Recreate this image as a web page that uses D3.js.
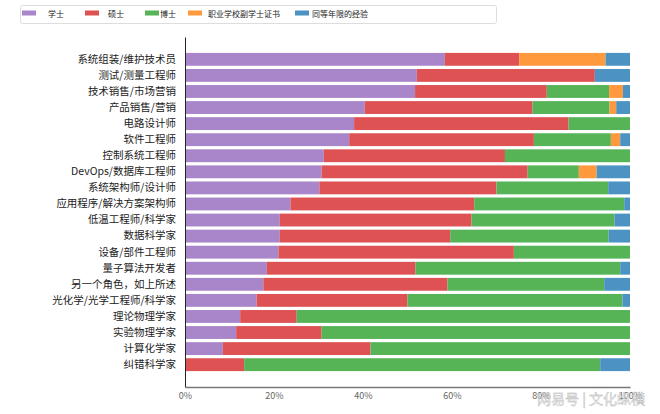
<!DOCTYPE html>
<html><head><meta charset="utf-8">
<script src="https://cdn.jsdelivr.net/npm/d3@7"></script>
<style>body{margin:0;background:#fff}</style>
</head><body><svg id="c" width="660" height="414"></svg>
<script>
const categories = ["系统组装/维护技术员","测试/测量工程师","技术销售/市场营销","产品销售/营销","电路设计师","软件工程师","控制系统工程师","DevOps/数据库工程师","系统架构师/设计师","应用程序/解决方案架构师","低温工程师/科学家","数据科学家","设备/部件工程师","量子算法开发者","另一个角色，如上所述","光化学/光学工程师/科学家","理论物理学家","实验物理学家","计算化学家","纠错科学家"];
const seriesNames = ["学士","硕士","博士","职业学校副学士证书","同等年限的经验"];
const bachelor   = [58.4,52.1,51.7,40.4,38.0,36.9,31.2,30.7,30.2,23.7,21.3,21.3,21.0,18.4,17.6,16.1,12.4,11.5,8.5,0];
const master     = [16.7,40.0,29.6,37.7,48.2,41.5,40.7,46.3,39.8,41.3,43.1,38.3,52.9,33.4,41.4,33.9,12.7,19.2,33.2,13.3];
const doctorate  = [0,0,14.0,17.3,13.8,17.3,28.1,11.5,25.1,33.7,32.1,35.6,26.1,46.0,35.2,48.3,74.9,69.3,58.3,80.0];
const vocational = [19.4,0,3.1,1.5,0,2.1,0,4.0,0,0,0,0,0,0,0,0,0,0,0,0];
const experience = [5.5,7.9,1.6,3.1,0,2.2,0,7.5,4.9,1.3,3.5,4.8,0,2.2,5.8,1.7,0,0,0,6.7];
const colors = ["#a985ca","#de5253","#56b356","#ff993e","#4c92c3"];
const xTicks = [0,0.2,0.4,0.6,0.8,1.0];

const seriesArrays = [bachelor,master,doctorate,vocational,experience];
const rows = categories.map((c,i)=>{const o={cat:c}; seriesNames.forEach((s,j)=>o[s]=seriesArrays[j][i]); return o;});
const stack = d3.stack().keys(seriesNames).offset(d3.stackOffsetExpand)(rows);

const svg = d3.select("#c");
const font = "'Noto Sans CJK SC','Noto Sans',sans-serif";
const x = d3.scaleLinear().domain([0,1]).range([185,630]);
const y = d3.scaleBand().domain(categories).range([37,387]).paddingInner(0.2).paddingOuter(0.99);

svg.append("g").selectAll("g").data(stack).join("g")
  .attr("fill",(d,i)=>colors[i])
  .selectAll("rect").data(d=>d).join("rect")
  .attr("x",d=>x(d[0])).attr("width",d=>Math.max(0,x(d[1])-x(d[0])))
  .attr("y",d=>y(d.data.cat)).attr("height",y.bandwidth());

// y axis
const ya = svg.append("g").attr("transform","translate(185,0)").call(d3.axisLeft(y).tickSize(0).tickPadding(9));
ya.select(".domain").attr("stroke","#222").attr("stroke-width",1);
ya.selectAll("text").attr("font-family",font).attr("font-size","10.5px").attr("fill","#222");

// x axis
const xa = svg.append("g").attr("transform","translate(0,387)").call(d3.axisBottom(x).tickValues(xTicks).tickFormat(d3.format(".0%")).tickSize(0).tickPadding(6));
xa.select(".domain").attr("stroke","#777").attr("stroke-width",1.5);
xa.selectAll("text").attr("font-family",font).attr("font-size","9px").attr("fill","#666");

// legend
const leg = svg.append("g");
leg.append("rect").attr("x",20.5).attr("y",5.5).attr("width",476).attr("height",18).attr("rx",2)
  .attr("fill","#fff").attr("stroke","#ddd");
const legX = [22,85,145,188,295];
const legTextX = [48,108,160,208,312];
seriesNames.forEach((s,i)=>{
  leg.append("rect").attr("x",legX[i]).attr("y",10.5).attr("width",14).attr("height",5).attr("fill",colors[i]);
  leg.append("text").attr("x",legTextX[i]).attr("y",17).attr("font-family",font).attr("font-size","8px").attr("fill","#222").text(s);
});

// watermark
svg.append("text").attr("x",537).attr("y",404).attr("font-family",font).attr("font-size","14px")
  .attr("fill","#f4f4f4").attr("stroke","#aaa").attr("stroke-width",0.4).attr("opacity",0.9).text("网易号 | 文化纵横");
</script></body></html>
